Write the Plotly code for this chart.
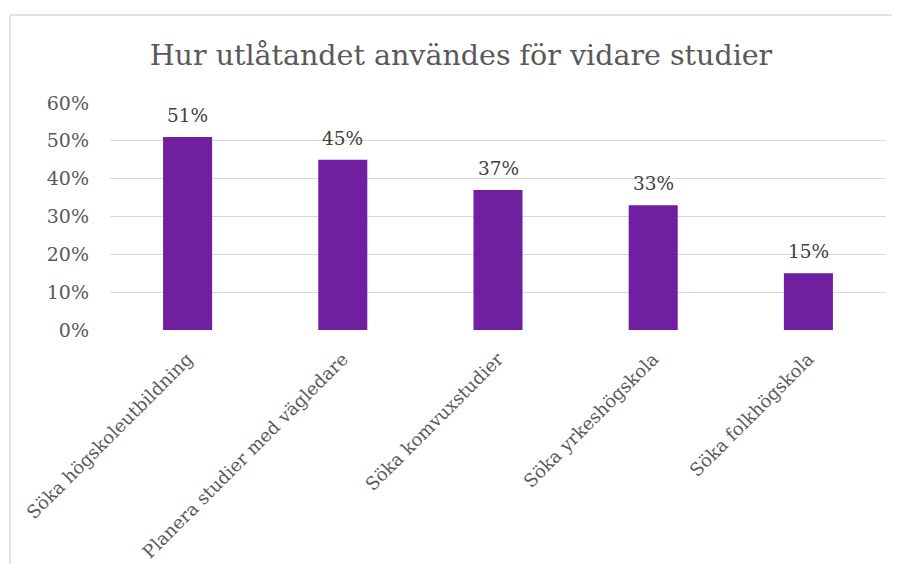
import plotly.graph_objects as go

categories = ["Söka högskoleutbildning", "Planera studier med vägledare",
              "Söka komvuxstudier", "Söka yrkeshögskola", "Söka folkhögskola"]
values = [0.51, 0.45, 0.37, 0.33, 0.15]
tick_vals = [0, 0.1, 0.2, 0.3, 0.4, 0.5, 0.6]
tick_text = ["0%", "10%", "20%", "30%", "40%", "50%", "60%"]
title_text = "Hur utlåtandet användes för vidare studier"

FONT = "DejaVu Serif"
# page body has an 8px margin, so the figure is sized/offset accordingly
W, H = 884, 556
L, R, T, B = 102, 6, 95, 234
pw = W - L - R
ph = H - T - B

fig = go.Figure(go.Bar(x=categories, y=values, marker_color="#701FA0",
                       marker_line_width=0, hoverinfo="skip"))

for c, v in zip(categories, values):
    fig.add_annotation(x=c, y=v, text=f"{round(v*100)}%", showarrow=False,
                       yanchor="bottom", yshift=9,
                       font=dict(family=FONT, size=18.5, color="#404040"))

fig.add_shape(type="line", xref="paper", yref="paper",
              x0=(2 - L) / pw, x1=(W + 200 - L) / pw,
              y0=(H - B - 7) / ph, y1=(H - B - 7) / ph,
              line=dict(color="#d9d9d9", width=1.5), layer="below")
fig.add_shape(type="line", xref="paper", yref="paper",
              x0=(2 - L) / pw, x1=(2 - L) / pw,
              y0=(H - B - 7) / ph, y1=(H - B - (H + 200)) / ph,
              line=dict(color="#d9d9d9", width=1.5), layer="below")

fig.update_layout(
    width=W, height=H,
    margin=dict(l=L, r=R, t=T, b=B, autoexpand=False),
    paper_bgcolor="white", plot_bgcolor="white",
    bargap=0.684,
    showlegend=False,
    title=dict(text=title_text, x=453 / W, xanchor="center", y=1 - 47 / H,
               yanchor="middle", font=dict(family=FONT, size=28.5, color="#595959")),
    xaxis=dict(tickangle=-45, tickfont=dict(family=FONT, size=18, color="#595959"),
               showline=False, showgrid=False, ticks="", ticklabelstandoff=14,
               automargin=False),
    yaxis=dict(range=[0, 0.6], tickvals=tick_vals, ticktext=tick_text,
               tickfont=dict(family=FONT, size=19, color="#595959"),
               showgrid=True, gridcolor="#d9d9d9", gridwidth=1.3,
               zeroline=False, showline=False, ticks="", ticklabelstandoff=20,
               automargin=False),
)

fig.write_html("out.html", config={"displayModeBar": False},
               post_script="document.documentElement.style.overflow='hidden';"
                           "document.body.style.overflow='hidden';")
